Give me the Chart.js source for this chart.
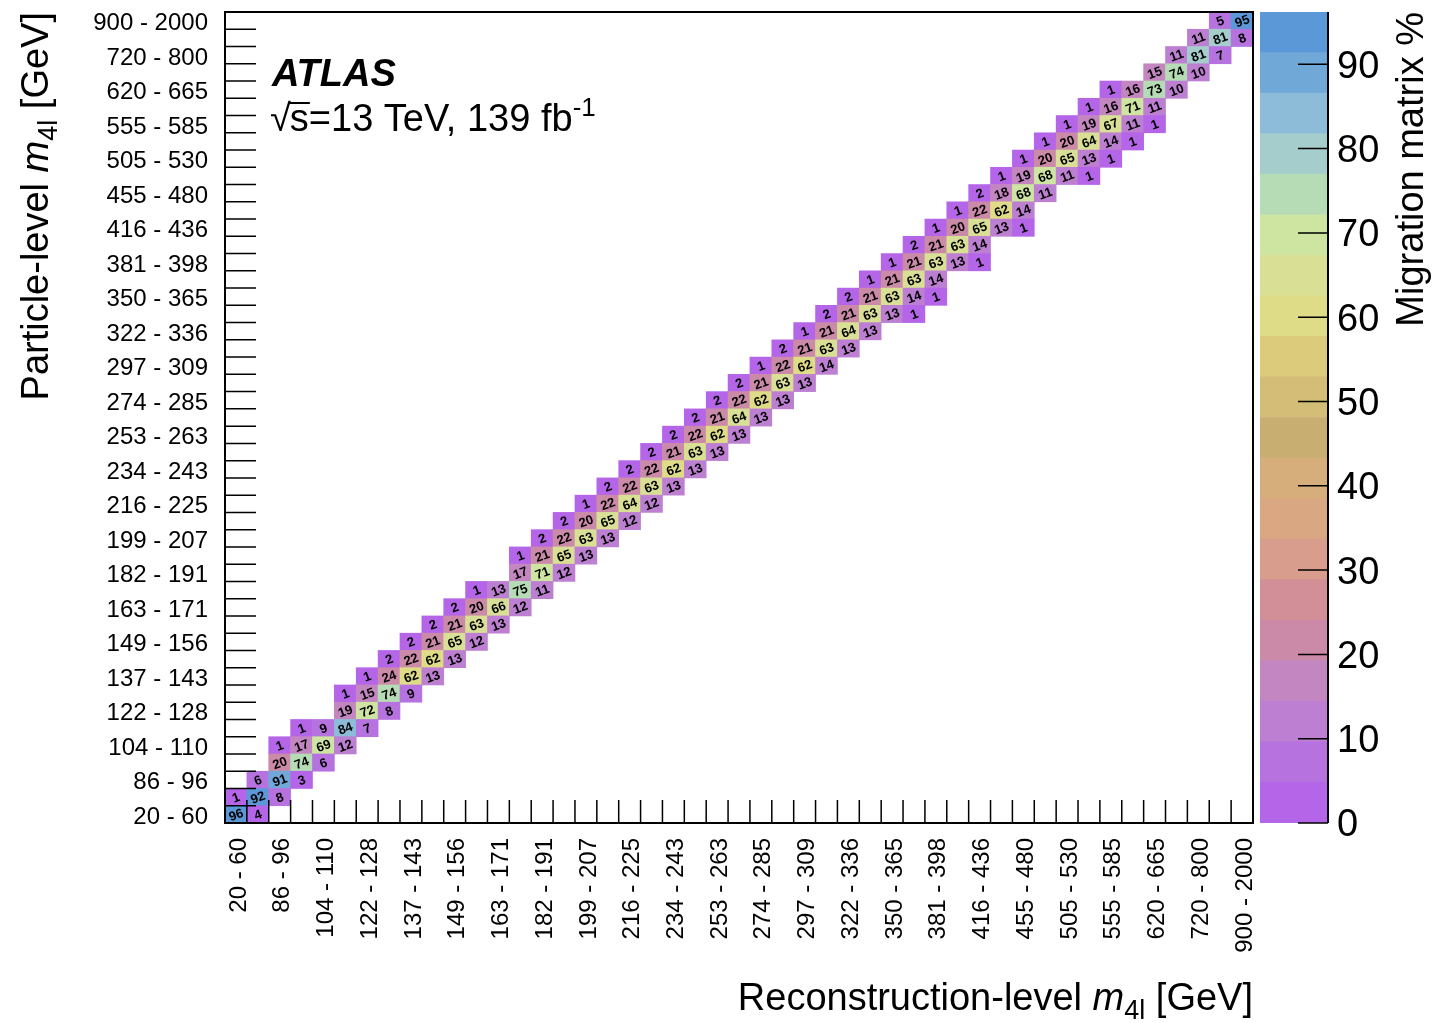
<!DOCTYPE html>
<html>
<head>
<meta charset="utf-8">
<title>m4l migration matrix</title>
<script src="https://cdn.jsdelivr.net/npm/chart.js@4.4.1/dist/chart.umd.min.js"></script>
<style>
  body { margin: 0; background: #fff; }
  #wrap { position: relative; width: 1435px; height: 1023px; }
  #matrix { position: absolute; left: 0; top: 0; }
  #zbar { position: absolute; left: 1255px; top: 0; }
</style>
</head>
<body>
<div id="wrap">
  <canvas id="matrix" width="1435" height="1023"></canvas>
  <canvas id="zbar" width="180" height="1023"></canvas>
</div>
<script>
// m4l bins [GeV], shared by particle level (rows) and reconstruction level (columns)
const massBins = [
  '20 - 60', '60 - 86', '86 - 96', '96 - 104', '104 - 110', '110 - 122', '122 - 128', '128 - 137',
  '137 - 143', '143 - 149', '149 - 156', '156 - 163', '163 - 171', '171 - 182', '182 - 191', '191 - 199',
  '199 - 207', '207 - 216', '216 - 225', '225 - 234', '234 - 243', '243 - 253', '253 - 263', '263 - 274',
  '274 - 285', '285 - 297', '297 - 309', '309 - 322', '322 - 336', '336 - 350', '350 - 365', '365 - 381',
  '381 - 398', '398 - 416', '416 - 436', '436 - 455', '455 - 480', '480 - 505', '505 - 530', '530 - 555',
  '555 - 585', '585 - 620', '620 - 665', '665 - 720', '720 - 800', '800 - 900', '900 - 2000'
];

// first non-empty reco bin of each particle-level row
const firstRecoBin = [
  0, 0, 1, 2, 2, 3, 5, 5, 6, 7, 8, 9, 10, 11, 13, 13, 14, 15, 16, 17, 18, 19, 20, 21,
  22, 23, 24, 25, 26, 27, 28, 29, 30, 31, 32, 33, 34, 35, 36, 37, 38, 39, 40, 42, 43, 44, 45
];

// migration fractions [%] per row, starting at firstRecoBin
const migration = [
  [96, 4], [1, 92, 8], [6, 91, 3], [20, 74, 6], [1, 17, 69, 12], [1, 9, 84, 7],
  [19, 72, 8], [1, 15, 74, 9], [1, 24, 62, 13], [2, 22, 62, 13], [2, 21, 65, 12],
  [2, 21, 63, 13], [2, 20, 66, 12], [1, 13, 75, 11], [17, 71, 12], [1, 21, 65, 13],
  [2, 22, 63, 13], [2, 20, 65, 12], [1, 22, 64, 12], [2, 22, 63, 13], [2, 22, 62, 13],
  [2, 21, 63, 13], [2, 22, 62, 13], [2, 21, 64, 13], [2, 22, 62, 13], [2, 21, 63, 13],
  [1, 22, 62, 14], [2, 21, 63, 13], [1, 21, 64, 13], [2, 21, 63, 13, 1], [2, 21, 63, 14, 1],
  [1, 21, 63, 14], [1, 21, 63, 13, 1], [2, 21, 63, 14], [1, 20, 65, 13, 1], [1, 22, 62, 14],
  [2, 18, 68, 11], [1, 19, 68, 11, 1], [1, 20, 65, 13, 1], [1, 20, 64, 14, 1], [1, 19, 67, 11, 1],
  [1, 16, 71, 11], [1, 16, 73, 10], [15, 74, 10], [11, 81, 7], [11, 81, 8], [5, 95]
];

const zMax = 96.2;
const zTicks = [0, 10, 20, 30, 40, 50, 60, 70, 80, 90];
// 20 colour bands, from 0 upwards
const paletteColors = [
  '#b565e8', '#b672de', '#bd7fd1', '#c386c0', '#cb8aa8', '#d28f97', '#d89d8c', '#d9a883',
  '#d6ae7c', '#c9ae72', '#d3bd77', '#dccb7a', '#dfdc87', '#d9e095', '#cde5a1', '#b6dcb6',
  '#a4cdcc', '#8cbcd8', '#70a8d8', '#5b98d8'
];

const FONT = '"Liberation Sans", Arial, Helvetica, sans-serif';
const nBins = massBins.length;
const bandWidth = zMax / paletteColors.length;

function colourFor(v) {
  return paletteColors[Math.min(paletteColors.length - 1, Math.floor(v / bandWidth))];
}

// one floating-bar dataset per particle-level row, spanning [r, r+1] on y
const rowDatasets = migration.map((vals, r) => {
  const data = new Array(nBins).fill(null);
  const percent = new Array(nBins).fill(null);
  const colors = new Array(nBins).fill('rgba(0,0,0,0)');
  vals.forEach((v, k) => {
    const c = firstRecoBin[r] + k;
    data[c] = [r, r + 1];
    percent[c] = v;
    colors[c] = colourFor(v);
  });
  return {
    label: massBins[r], data, percent, backgroundColor: colors,
    borderWidth: 0, grouped: false, barPercentage: 1, categoryPercentage: 1
  };
});

// text helper: runs of differently styled text on one baseline
function richWidth(ctx, parts) {
  return parts.reduce((w, p) => { ctx.font = p.font; return w + ctx.measureText(p.t).width; }, 0);
}
function drawRich(ctx, parts, x, y) {
  let cx = x;
  parts.forEach(p => {
    ctx.font = p.font;
    ctx.fillText(p.t, cx, y + (p.dy || 0));
    cx += ctx.measureText(p.t).width;
  });
}

const big = '38px ' + FONT;
const bigItalic = 'italic 38px ' + FONT;
const sub = '27px ' + FONT;
const m4lTitle = (head) => [
  { t: head, font: big }, { t: 'm', font: bigItalic }, { t: '4l', font: sub, dy: 9 }, { t: ' [GeV]', font: big }
];

const cellText = {
  id: 'cellText',
  afterDatasetsDraw(chart) {
    const ctx = chart.ctx;
    ctx.save();
    ctx.font = 'bold 13px ' + FONT;
    ctx.fillStyle = '#000';
    ctx.textAlign = 'center';
    ctx.textBaseline = 'middle';
    chart.data.datasets.forEach((ds, r) => {
      chart.getDatasetMeta(r).data.forEach((bar, c) => {
        const v = ds.percent[c];
        if (v == null) return;
        const p = bar.getProps(['x', 'y', 'base'], true);
        ctx.save();
        ctx.translate(p.x, (p.y + p.base) / 2);
        ctx.rotate(-20 * Math.PI / 180);
        ctx.fillText(String(v), 0, 1);
        ctx.restore();
      });
    });
    ctx.restore();
  }
};

// inward tick marks at the bin edges plus the frame
const frameTicks = {
  id: 'frameTicks',
  afterDatasetsDraw(chart) {
    const { ctx, chartArea: a, scales: { x, y } } = chart;
    const half = (x.getPixelForValue(1) - x.getPixelForValue(0)) / 2;
    ctx.save();
    ctx.strokeStyle = '#000';
    ctx.lineWidth = 1.5;
    ctx.beginPath();
    for (let c = 1; c < nBins; c++) {
      const px = x.getPixelForValue(c) - half;
      ctx.moveTo(px, a.bottom);
      ctx.lineTo(px, a.bottom - 23);
    }
    for (let k = 1; k < nBins; k++) {
      const py = y.getPixelForValue(k);
      ctx.moveTo(a.left, py);
      ctx.lineTo(a.left + 31, py);
    }
    ctx.stroke();
    ctx.lineWidth = 2;
    ctx.strokeRect(a.left, a.top, a.right - a.left, a.bottom - a.top);
    ctx.restore();
  }
};

const labels = {
  id: 'labels',
  afterDraw(chart) {
    const { ctx, chartArea: a } = chart;
    ctx.save();
    ctx.fillStyle = '#000';
    ctx.textBaseline = 'alphabetic';

    // x title, right aligned with the frame
    const xt = m4lTitle('Reconstruction-level ');
    drawRich(ctx, xt, a.right - richWidth(ctx, xt), 1010);

    // y title, rotated, ending at the top of the frame
    const yt = m4lTitle('Particle-level ');
    ctx.save();
    ctx.translate(48, a.top);
    ctx.rotate(-Math.PI / 2);
    drawRich(ctx, yt, -richWidth(ctx, yt), 0);
    ctx.restore();

    // experiment label
    ctx.font = 'bold italic 38px ' + FONT;
    ctx.fillText('ATLAS', 272, 86);

    ctx.font = big;
    ctx.fillText('\u221A', 270, 131);
    const rootW = ctx.measureText('\u221A').width;
    const sx = 270 + rootW - 1;
    const sW = ctx.measureText('s').width;
    ctx.fillText('s', sx, 131);
    ctx.lineWidth = 2;
    ctx.beginPath();
    ctx.moveTo(sx - 1, 103);
    ctx.lineTo(sx + sW + 1, 103);
    ctx.stroke();
    drawRich(ctx, [
      { t: '=13 TeV, 139 fb', font: big },
      { t: '-1', font: '26px ' + FONT, dy: -15 }
    ], sx + sW, 131);
    ctx.restore();
  }
};

new Chart(document.getElementById('matrix'), {
  type: 'bar',
  data: { labels: massBins, datasets: rowDatasets },
  plugins: [cellText, frameTicks, labels],
  options: {
    responsive: false,
    animation: false,
    layout: { padding: { top: 12, right: 182, bottom: 0, left: 0 } },
    plugins: { legend: { display: false }, tooltip: { enabled: false } },
    scales: {
      x: {
        type: 'category',
        offset: true,
        grid: { display: false, drawTicks: false },
        border: { display: false },
        ticks: {
          autoSkip: false, minRotation: 90, maxRotation: 90, padding: 15, labelOffset: 3,
          color: '#000', font: { family: FONT, size: 24 },
          callback: (v, i) => (i % 2 === 0 ? massBins[i] : '')
        },
        afterFit: s => { s.height = 200; s.paddingLeft = 0; s.paddingRight = 0; }
      },
      y: {
        type: 'linear',
        min: 0,
        max: nBins,
        grid: { display: false, drawTicks: false },
        border: { display: false },
        afterBuildTicks: s => {
          s.ticks = massBins.map((_, i) => i).filter(i => i % 2 === 0).map(i => ({ value: i + 0.5 }));
        },
        ticks: {
          autoSkip: false, padding: 17, labelOffset: 3,
          color: '#000', font: { family: FONT, size: 24 },
          callback: v => massBins[Math.round(v - 0.5)]
        },
        afterFit: s => { s.width = 225; s.paddingTop = 0; s.paddingBottom = 0; }
      }
    }
  }
});

// colour scale
const zBands = paletteColors.map((col, i) => ({
  data: [[i * bandWidth, (i + 1) * bandWidth]],
  backgroundColor: col,
  borderWidth: 0, grouped: false, barPercentage: 1, categoryPercentage: 1
}));

const zDecor = {
  id: 'zDecor',
  afterDraw(chart) {
    const { ctx, chartArea: a, scales: { y } } = chart;
    ctx.save();
    ctx.strokeStyle = '#000';
    ctx.lineWidth = 1.5;
    ctx.beginPath();
    zTicks.forEach(v => {
      const py = y.getPixelForValue(v);
      ctx.moveTo(a.right - 30, py);
      ctx.lineTo(a.right, py);
    });
    ctx.stroke();
    ctx.lineWidth = 2;
    ctx.beginPath();
    ctx.moveTo(a.right, a.top);
    ctx.lineTo(a.right, a.bottom);
    ctx.stroke();

    ctx.fillStyle = '#000';
    ctx.font = big;
    ctx.textAlign = 'right';
    ctx.translate(168, a.top);
    ctx.rotate(-Math.PI / 2);
    ctx.fillText('Migration matrix %', 0, 0);
    ctx.restore();
  }
};

new Chart(document.getElementById('zbar'), {
  type: 'bar',
  data: { labels: ['z'], datasets: zBands },
  plugins: [zDecor],
  options: {
    responsive: false,
    animation: false,
    layout: { padding: { top: 12, right: 0, bottom: 200, left: 5 } },
    plugins: { legend: { display: false }, tooltip: { enabled: false } },
    scales: {
      x: { display: false },
      y: {
        position: 'right',
        min: 0,
        max: zMax,
        grid: { display: false, drawTicks: false },
        border: { display: false },
        afterBuildTicks: s => { s.ticks = zTicks.map(v => ({ value: v })); },
        ticks: { padding: 9, labelOffset: 3, color: '#000', font: { family: FONT, size: 38 } },
        afterFit: s => { s.width = 107; s.paddingTop = 0; s.paddingBottom = 0; }
      }
    }
  }
});
</script>
</body>
</html>
